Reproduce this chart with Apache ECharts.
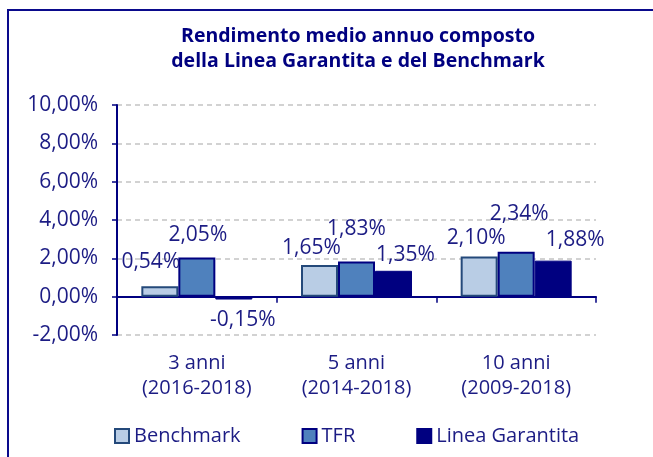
<!DOCTYPE html>
<html>
<head>
<meta charset="utf-8">
<script src="https://cdn.jsdelivr.net/npm/echarts@6/dist/echarts.min.js"></script>
<style>
  html, body { margin: 0; padding: 0; background: #fff; }
  #chart { width: 653px; height: 457px; }
</style>
</head>
<body>
<div id="chart"></div>
<script>
// data
const categories = ["3 anni\n(2016-2018)", "5 anni\n(2014-2018)", "10 anni\n(2009-2018)"];
const benchmark = [0.54, 1.65, 2.10];
const tfr = [2.05, 1.83, 2.34];
const lineaGarantita = [-0.15, 1.35, 1.88];
const yTicks = { min: -2, max: 10, step: 2 };

// label nudges, the original labels were moved by hand
const benchShift = [[-9, -14], [-8, -7], [-3, -8]];
const tfrShift = [[1, -12], [0, -22], [3, -27]];
const lgShift = [[9, 10], [12, -5], [22, -10]];

const navy = "#000080";
const textCol = "#1c1c84";
const font = "Open Sans";

function pct(v) {
    return v.toFixed(2).replace(".", ",") + "%";
}

function withShift(values, shifts) {
    return values.map((v, i) => ({
        value: v,
        label: { offset: shifts[i] }
    }));
}

let chart = echarts.init(document.querySelector("#chart"));

let labelBase = {
    show: true,
    position: "outside",
    distance: 0,
    color: textCol,
    fontFamily: font,
    fontSize: 21,
    formatter: p => pct(p.value)
};

let option = {
    animation: false,
    backgroundColor: "#fff",
    textStyle: { fontFamily: font },
    graphic: [{
        type: "rect",
        shape: { x: 8, y: 10, width: 700, height: 500 },
        style: { fill: "none", stroke: "#0a0a8c", lineWidth: 2 },
        silent: true
    }],
    title: {
        text: "Rendimento medio annuo composto\ndella Linea Garantita e del Benchmark",
        left: 353,
        top: 19,
        textAlign: "center",
        textStyle: {
            color: navy,
            fontFamily: font,
            fontWeight: "bold",
            fontSize: 19.5,
            lineHeight: 25
        }
    },
    legend: {
        left: 114,
        top: 426,
        padding: 0,
        itemWidth: 14,
        itemHeight: 14,
        itemGap: 61,
        icon: "rect",
        textStyle: { color: textCol, fontFamily: font, fontSize: 20 },
        data: ["Benchmark", "TFR", "Linea Garantita"]
    },
    grid: { left: 117, right: 57, top: 105, bottom: 122 },
    xAxis: [{
        type: "category",
        data: categories,
        position: "bottom",
        axisLine: { onZero: true, lineStyle: { color: navy, width: 2 } },
        axisTick: { show: true, length: 6, lineStyle: { color: navy, width: 1.5 } },
        axisLabel: { show: false }
    }, {
        type: "category",
        data: categories,
        position: "bottom",
        axisLine: { show: false, onZero: false },
        axisTick: { show: false },
        axisLabel: {
            margin: 16,
            color: textCol,
            fontFamily: font,
            fontSize: 20,
            lineHeight: 25
        }
    }],
    yAxis: {
        type: "value",
        min: yTicks.min,
        max: yTicks.max,
        interval: yTicks.step,
        axisLine: { show: true, lineStyle: { color: navy, width: 2 } },
        axisTick: { show: true, length: 5, lineStyle: { color: navy, width: 1.5 } },
        axisLabel: {
            margin: 19,
            color: textCol,
            fontFamily: font,
            fontSize: 21,
            formatter: v => pct(v)
        },
        splitLine: { lineStyle: { color: "#c4c4c4", type: [5, 4], width: 1.5 } }
    },
    series: [{
        name: "Benchmark",
        type: "bar",
        barWidth: 37,
        barGap: "0%",
        data: withShift(benchmark, benchShift),
        itemStyle: { color: "#b9cde5", borderColor: "#24497a", borderWidth: 2 },
        label: labelBase
    }, {
        name: "TFR",
        type: "bar",
        barWidth: 37,
        barGap: "0%",
        data: withShift(tfr, tfrShift),
        itemStyle: { color: "#4f81bd", borderColor: navy, borderWidth: 2 },
        label: labelBase
    }, {
        name: "Linea Garantita",
        type: "bar",
        barWidth: 37,
        barGap: "0%",
        data: withShift(lineaGarantita, lgShift),
        itemStyle: { color: navy, borderColor: navy, borderWidth: 1 },
        label: labelBase
    }]
};

chart.setOption(option);
</script>
</body>
</html>
